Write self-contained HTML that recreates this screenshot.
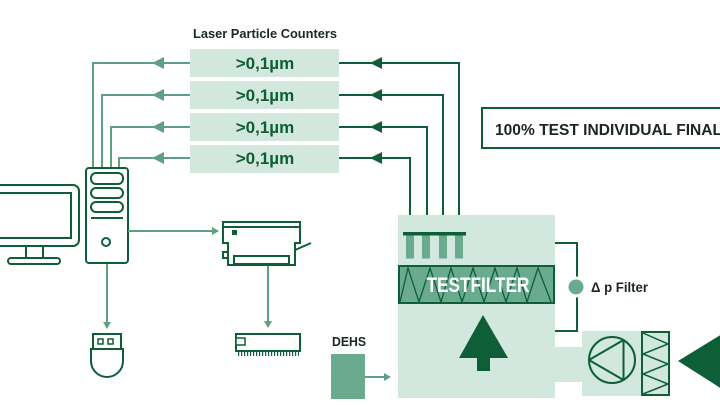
<!DOCTYPE html>
<html>
<head>
<meta charset="utf-8">
<style>
  html,body{margin:0;padding:0;background:#fff;}
  svg{display:block;}
  text{font-family:"Liberation Sans",Arial,sans-serif;font-weight:bold;}
</style>
</head>
<body>
<svg width="720" height="405" viewBox="0 0 720 405" xmlns="http://www.w3.org/2000/svg">
  <rect x="0" y="0" width="720" height="405" fill="#ffffff"/>

  <!-- Title -->
  <text x="193" y="38" font-size="12.5" fill="#1b2625" textLength="144" lengthAdjust="spacingAndGlyphs">Laser Particle Counters</text>

  <!-- Counter boxes -->
  <g fill="#d2e7dd">
    <rect x="190" y="49" width="149" height="28"/>
    <rect x="190" y="81" width="149" height="28"/>
    <rect x="190" y="113" width="149" height="28"/>
    <rect x="190" y="145" width="149" height="28"/>
  </g>
  <g font-size="17" fill="#0e5e38" text-anchor="middle">
    <text x="265" y="69">&gt;0,1µm</text>
    <text x="265" y="101">&gt;0,1µm</text>
    <text x="265" y="133">&gt;0,1µm</text>
    <text x="265" y="164">&gt;0,1µm</text>
  </g>

  <!-- Left connectors (light green) -->
  <g stroke="#5fa084" stroke-width="2" fill="none">
    <polyline points="190,63 93,63 93,168"/>
    <polyline points="190,95 102,95 102,168"/>
    <polyline points="190,127 111,127 111,168"/>
    <polyline points="190,158 119,158 119,168"/>
  </g>
  <g fill="#5fa084">
    <polygon points="152,63 164,57 164,69"/>
    <polygon points="152,95 164,89 164,101"/>
    <polygon points="152,127 164,121 164,133"/>
    <polygon points="152,158 164,152 164,164"/>
  </g>

  <!-- Right connectors (dark green) -->
  <g stroke="#0e5e38" stroke-width="2" fill="none">
    <polyline points="339,63 459,63 459,233"/>
    <polyline points="339,95 443,95 443,233"/>
    <polyline points="339,127 427,127 427,233"/>
    <polyline points="339,158 410,158 410,233"/>
  </g>
  <g fill="#0e5e38">
    <polygon points="370,63 382,57 382,69"/>
    <polygon points="370,95 382,89 382,101"/>
    <polygon points="370,127 382,121 382,133"/>
    <polygon points="370,158 382,152 382,164"/>
  </g>

  <!-- 100% test box -->
  <rect x="482" y="108" width="250" height="40" fill="none" stroke="#0e5e38" stroke-width="2"/>
  <text x="495" y="135" font-size="16" fill="#1b2625" textLength="227" lengthAdjust="spacingAndGlyphs">100% TEST INDIVIDUAL FINAL</text>

  <!-- Monitor -->
  <g stroke="#0e5e38" stroke-width="2" fill="none">
    <rect x="-10" y="185" width="89" height="61" rx="6"/>
    <rect x="-10" y="193" width="81" height="45"/>
    <line x1="26" y1="246" x2="26" y2="258"/>
    <line x1="43" y1="246" x2="43" y2="258"/>
    <rect x="8" y="258" width="52" height="6" rx="3"/>
  </g>

  <!-- Tower -->
  <g stroke="#0e5e38" stroke-width="2" fill="#fff">
    <rect x="86" y="168" width="42" height="95" rx="3"/>
    <rect x="91" y="173" width="32" height="11" rx="5"/>
    <rect x="91" y="188" width="32" height="10" rx="5"/>
    <rect x="91" y="202" width="32" height="10" rx="5"/>
    <line x1="91" y1="218" x2="123" y2="218"/>
    <circle cx="106" cy="242" r="4"/>
  </g>

  <!-- tower connectors -->
  <g stroke="#5fa084" stroke-width="2" fill="none">
    <line x1="128" y1="231" x2="214" y2="231"/>
    <line x1="107" y1="264" x2="107" y2="324"/>
    <line x1="268" y1="265" x2="268" y2="323"/>
    <line x1="365" y1="377" x2="386" y2="377"/>
  </g>
  <g fill="#5fa084">
    <polygon points="219,231 212,227 212,235"/>
    <polygon points="107,329 103,322 111,322"/>
    <polygon points="268,328 264,321 272,321"/>
    <polygon points="391,377 384,373 384,381"/>
  </g>

  <!-- Printer -->
  <g stroke="#0e5e38" stroke-width="2" fill="#fff">
    <path d="M223,222 H300 V243 H295 V265 H228 V243 H223 Z"/>
    <line x1="223" y1="227" x2="300" y2="227"/>
    <rect x="234" y="256" width="55" height="8"/>
    <rect x="223" y="252" width="5" height="6"/>
    <line x1="295" y1="250" x2="311" y2="243"/>
  </g>
  <rect x="232" y="230" width="5" height="5" fill="#0e5e38"/>

  <!-- USB -->
  <g stroke="#0e5e38" stroke-width="2" fill="#fff">
    <rect x="93" y="334" width="28" height="15"/>
    <rect x="98" y="339" width="5" height="5" stroke-width="1.5"/>
    <rect x="108" y="339" width="5" height="5" stroke-width="1.5"/>
    <path d="M91,349 H123 V361 A16,16 0 0 1 91,361 Z"/>
  </g>

  <!-- Memory card -->
  <g stroke="#0e5e38" stroke-width="2" fill="#fff">
    <rect x="236" y="334" width="64" height="17"/>
    <rect x="236" y="338" width="9" height="7" stroke-width="1.5"/>
  </g>
  <line x1="238" y1="354" x2="299" y2="354" stroke="#0e5e38" stroke-width="4" stroke-dasharray="1.2 1.8"/>

  <!-- DEHS -->
  <text x="332" y="346" font-size="13" fill="#1b2625" textLength="34" lengthAdjust="spacingAndGlyphs">DEHS</text>
  <rect x="331" y="354" width="34" height="45" fill="#6aab90"/>

  <!-- Main test chamber -->
  <rect x="398" y="215" width="157" height="183" fill="#d2e7dd"/>
  <rect x="554" y="347" width="30" height="35" fill="#d2e7dd"/>
  <rect x="582" y="331" width="60" height="65" fill="#d2e7dd"/>

  <!-- Nozzles -->
  <rect x="403" y="232" width="63" height="3.5" fill="#0e5e38"/>
  <g fill="#6aab90">
    <rect x="406" y="235.5" width="8" height="23"/>
    <rect x="422" y="235.5" width="8" height="23"/>
    <rect x="439" y="235.5" width="8" height="23"/>
    <rect x="455" y="235.5" width="8" height="23"/>
  </g>

  <!-- Testfilter band -->
  <rect x="399" y="266" width="155" height="37" fill="#6aab90" stroke="#0e5e38" stroke-width="2"/>
  <polyline fill="none" stroke="#0e5e38" stroke-width="1.3"
    points="400,302 408,268 419,302 430,268 441,302 451,268 462,302 473,268 484,302 495,268 506,302 517,268 527,302 538,268 551,302"/>
  <text x="478" y="292" font-size="21" fill="#ffffff" text-anchor="middle" textLength="103" lengthAdjust="spacingAndGlyphs">TESTFILTER</text>

  <!-- Up arrow -->
  <polygon points="483,315 508,358 490,358 490,371 477,371 477,358 459,358" fill="#0e5e38"/>

  <!-- Delta p bracket -->
  <polyline points="555,243 577,243 577,331 555,331" fill="none" stroke="#0e5e38" stroke-width="2"/>
  <circle cx="576" cy="287" r="9" fill="#6aab90" stroke="#ffffff" stroke-width="3"/>
  <text x="591" y="292" font-size="13.5" fill="#1b2625" textLength="57" lengthAdjust="spacingAndGlyphs">Δ p Filter</text>

  <!-- Fan -->
  <circle cx="612" cy="360" r="23" fill="none" stroke="#0e5e38" stroke-width="2"/>
  <polygon points="589,360 623.5,340 623.5,380" fill="none" stroke="#0e5e38" stroke-width="2" stroke-linejoin="round"/>

  <!-- Pre-filter -->
  <rect x="642" y="332" width="27" height="63" fill="#d2e7dd" stroke="#0e5e38" stroke-width="2"/>
  <polyline fill="none" stroke="#0e5e38" stroke-width="1.5"
    points="643,333 668,344 643,354 668,364 643,374 668,384 643,394"/>

  <!-- Big inflow arrow -->
  <polygon points="678,361 722,334 722,389" fill="#0e5e38"/>
</svg>
</body>
</html>
